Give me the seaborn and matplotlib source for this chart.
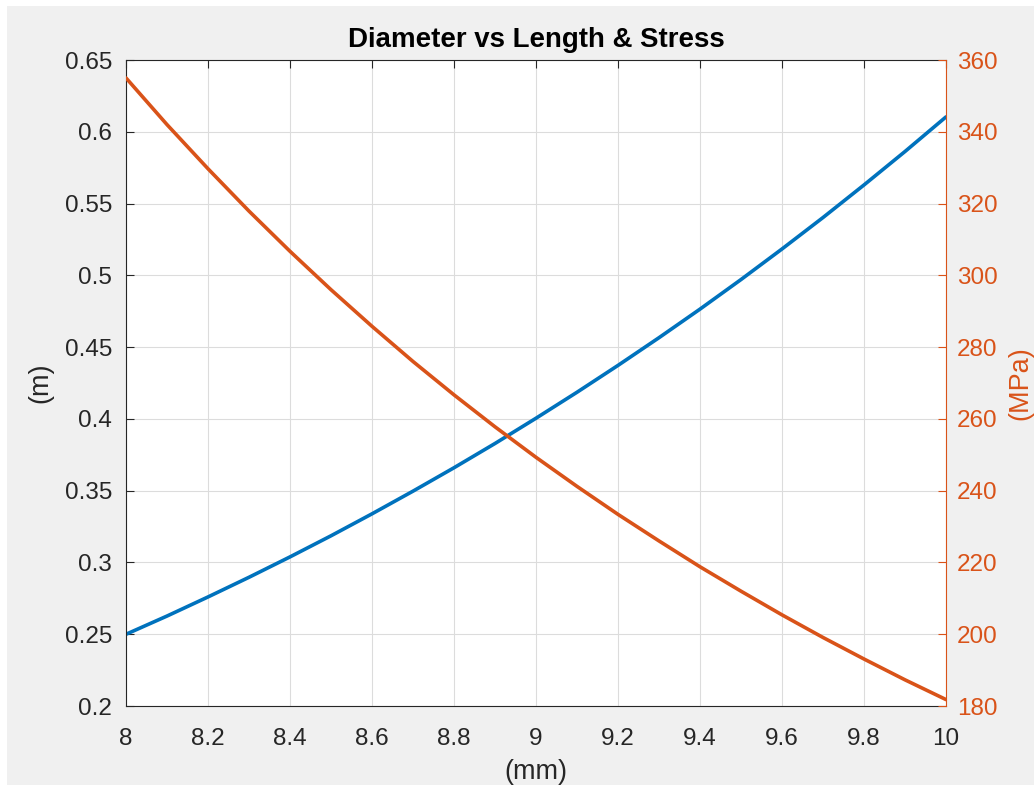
import matplotlib
matplotlib.use("Agg")
import matplotlib.pyplot as plt
from matplotlib.patches import Rectangle
import seaborn as sns
import pandas as pd

# diameter (mm) against length (m) and stress (MPa)
diameter_mm = [8.0, 8.1, 8.2, 8.3, 8.4, 8.5, 8.6, 8.7, 8.8, 8.9, 9.0,
               9.1, 9.2, 9.3, 9.4, 9.5, 9.6, 9.7, 9.8, 9.9, 10.0]
length_m = [0.250, 0.2627, 0.2760, 0.2897, 0.3039, 0.3186, 0.3339, 0.3497,
            0.3660, 0.3829, 0.4005, 0.4186, 0.4373, 0.4566, 0.4765, 0.4971,
            0.5184, 0.5403, 0.5630, 0.5863, 0.6104]
stress_mpa = [355.0, 342.0, 329.7, 317.9, 306.7, 296.0, 285.8, 276.0,
              266.7, 257.8, 249.3, 241.2, 233.4, 226.0, 218.8, 212.0,
              205.4, 199.1, 193.1, 187.3, 181.8]

x_ticks = [8, 8.2, 8.4, 8.6, 8.8, 9, 9.2, 9.4, 9.6, 9.8, 10]
x_tick_labels = ["8", "8.2", "8.4", "8.6", "8.8", "9", "9.2", "9.4", "9.6", "9.8", "10"]
left_ticks = [0.2, 0.25, 0.3, 0.35, 0.4, 0.45, 0.5, 0.55, 0.6, 0.65]
left_tick_labels = ["0.2", "0.25", "0.3", "0.35", "0.4", "0.45", "0.5", "0.55", "0.6", "0.65"]
right_ticks = [180, 200, 220, 240, 260, 280, 300, 320, 340, 360]

BLUE = "#0072BD"
ORANGE = "#D95319"
DARK = "#262626"
FS = 17.5       # tick labels
LABEL_FS = 19.5  # axis labels

sns.set_style("white")
plt.rcParams["font.family"] = ["Liberation Sans", "DejaVu Sans"]

df = pd.DataFrame({"d": diameter_mm, "L": length_m, "S": stress_mpa})

fig = plt.figure(figsize=(10.34, 7.85), dpi=100)
fig.patch.set_facecolor("white")
fig.patches.append(Rectangle((7 / 1034, 0), 1 - 7 / 1034, 1 - 6 / 785,
                             transform=fig.transFigure, facecolor="#F0F0F0",
                             edgecolor="none", zorder=-10))

ax = fig.add_axes([0.1219, 0.1006, 0.7930, 0.8229])
ax.set_facecolor("white")
sns.lineplot(data=df, x="d", y="L", ax=ax, color=BLUE, linewidth=2.6)

ax.set_xlim(8, 10)
ax.set_ylim(0.2, 0.65)
ax.set_xticks(x_ticks)
ax.set_xticklabels(x_tick_labels)
ax.set_yticks(left_ticks)
ax.set_yticklabels(left_tick_labels)
ax.grid(True, color="#DCDCDC", linewidth=0.8)
ax.set_axisbelow(True)
ax.tick_params(axis="both", direction="in", length=6, width=0.8,
               colors=DARK, labelsize=FS, labelcolor=DARK, top=True)
ax.tick_params(axis="x", pad=15.5)
ax.tick_params(axis="y", pad=10)
for side in ["left", "bottom", "top"]:
    ax.spines[side].set_color(DARK)
    ax.spines[side].set_linewidth(0.8)
ax.spines["right"].set_visible(False)

ax.set_xlabel("(mm)", fontsize=LABEL_FS, color=DARK, labelpad=6.5)
ax.set_ylabel("(m)", fontsize=LABEL_FS, color=DARK, labelpad=8)
ax.set_title("Diameter vs Length & Stress", fontsize=19.9, fontweight="bold",
             color="black", pad=9.5)

ax2 = ax.twinx()
sns.lineplot(data=df, x="d", y="S", ax=ax2, color=ORANGE, linewidth=2.6)
ax2.set_ylim(180, 360)
ax2.set_yticks(right_ticks)
ax2.tick_params(axis="y", direction="in", length=6, width=0.8, pad=8,
                colors=ORANGE, labelsize=FS, labelcolor=ORANGE)
ax2.spines["right"].set_color(ORANGE)
ax2.spines["right"].set_linewidth(0.8)
for side in ["left", "bottom", "top"]:
    ax2.spines[side].set_visible(False)
ax2.set_ylabel("(MPa)", fontsize=LABEL_FS, color=ORANGE, labelpad=6.5)
ax2.set_xlabel("")

fig.savefig("out.png", dpi=100, facecolor=fig.get_facecolor())
